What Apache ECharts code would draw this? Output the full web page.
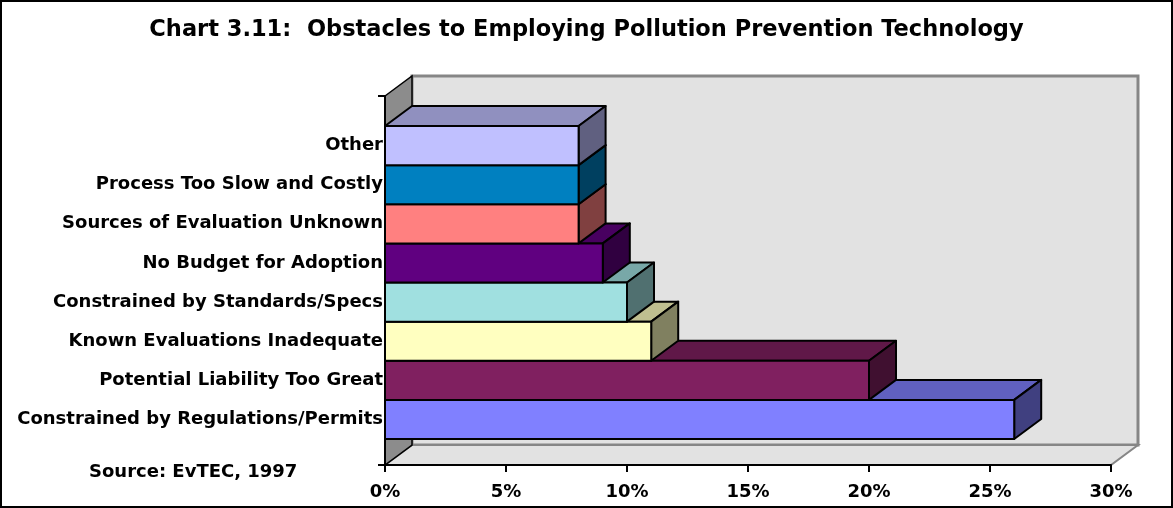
<!DOCTYPE html>
<html>
<head>
<meta charset="utf-8">
<script src="https://cdn.jsdelivr.net/npm/echarts@6/dist/echarts.min.js"></script>
<style>
  html, body { margin: 0; padding: 0; background: #fff; }
  #main { width: 1173px; height: 508px; }
</style>
</head>
<body>
<div id="main"></div>
<script>
// bottom to top, as on the chart
const categories = [
  'Constrained by Regulations/Permits',
  'Potential Liability Too Great',
  'Known Evaluations Inadequate',
  'Constrained by Standards/Specs',
  'No Budget for Adoption',
  'Sources of Evaluation Unknown',
  'Process Too Slow and Costly',
  'Other'
];
const values = [26, 20, 11, 10, 9, 8, 8, 8];
const barColors = ['#8080FF', '#802060', '#FFFFC0', '#A0E0E0', '#600080', '#FF8080', '#0080C0', '#C0C0FF'];
const xMin = 0, xMax = 30, xStep = 5;

const DEPTH = [27, -20];
const FONT = '"DejaVu Sans", Arial, sans-serif';

function shade(hex, k) {
  const n = parseInt(hex.slice(1), 16);
  const r = Math.round(((n >> 16) & 255) * k);
  const g = Math.round(((n >> 8) & 255) * k);
  const b = Math.round((n & 255) * k);
  return 'rgb(' + r + ',' + g + ',' + b + ')';
}

const chart = echarts.init(document.getElementById('main'));

const option = {
  animation: false,
  backgroundColor: '#fff',
  title: {
    text: 'Chart 3.11:  Obstacles to Employing Pollution Prevention Technology',
    left: 'center',
    top: 14,
    textStyle: { fontFamily: FONT, fontSize: 22.5, fontWeight: 'bold', color: '#000' }
  },
  graphic: [
    {
      type: 'rect', z: 100, silent: true,
      shape: { x: 1, y: 1, width: 1171, height: 506 },
      style: { fill: 'none', stroke: '#000', lineWidth: 2 }
    },
    {
      type: 'text', left: 89, top: 463, silent: true,
      style: { text: 'Source: EvTEC, 1997', font: 'bold 18px ' + FONT, fill: '#000' }
    }
  ],
  grid: [
    { left: 385, right: 62, top: 126, bottom: 69 },
    { left: 385, right: 62, top: 96, bottom: 43 }
  ],
  xAxis: [
    { gridIndex: 0, type: 'value', min: xMin, max: xMax, interval: xStep, show: false },
    {
      gridIndex: 1, type: 'value', min: xMin, max: xMax, interval: xStep, z: 10,
      axisLine: { show: true, lineStyle: { color: '#000', width: 2 } },
      axisTick: { show: true, length: 7, lineStyle: { color: '#000', width: 2 } },
      axisLabel: {
        formatter: '{value}%', margin: 18,
        fontFamily: FONT, fontSize: 18, fontWeight: 'bold', color: '#000'
      },
      splitLine: { show: false }
    }
  ],
  yAxis: [
    {
      gridIndex: 0, type: 'category', data: categories,
      axisLine: { show: false }, axisTick: { show: false },
      axisLabel: { margin: 2, fontFamily: FONT, fontSize: 18, fontWeight: 'bold', color: '#000' }
    },
    {
      gridIndex: 1, type: 'value', min: 0, max: 1, interval: 1, z: 10,
      axisLine: { show: true, lineStyle: { color: '#000', width: 2 } },
      axisTick: { show: true, length: 7, lineStyle: { color: '#000', width: 2 } },
      axisLabel: { show: false },
      splitLine: { show: false }
    }
  ],
  series: [
    {
      // walls and floor of the 3D box
      type: 'custom', xAxisIndex: 1, yAxisIndex: 1, z: 1, silent: true,
      data: [[xMin, 0]],
      renderItem: function (params, api) {
        const a = api.coord([xMin, 0]);
        const b = api.coord([xMax, 1]);
        const x0 = a[0], y0 = a[1], x1 = b[0], y1 = b[1];
        const dx = DEPTH[0], dy = DEPTH[1];
        return {
          type: 'group',
          children: [
            {
              type: 'rect',
              shape: { x: x0 + dx, y: y1 + dy, width: x1 - x0, height: y0 - y1 },
              style: { fill: '#e2e2e2', stroke: '#868686', lineWidth: 3 }
            },
            {
              type: 'polygon',
              shape: { points: [[x0, y0], [x0 + dx, y0 + dy], [x1 + dx, y0 + dy], [x1, y0]] },
              style: { fill: '#e2e2e2', stroke: '#868686', lineWidth: 2 }
            },
            {
              type: 'polygon',
              shape: { points: [[x0, y1], [x0 + dx, y1 + dy], [x0 + dx, y0 + dy], [x0, y0]] },
              style: { fill: '#8c8c8c', stroke: '#000', lineWidth: 1.5 }
            }
          ]
        };
      }
    },
    {
      type: 'custom', xAxisIndex: 0, yAxisIndex: 0, z: 2, silent: true,
      data: values.map(function (v, i) { return [v, i]; }),
      renderItem: function (params, api) {
        const i = api.value(1);
        const c0 = api.coord([xMin, i]);
        const c1 = api.coord([api.value(0), i]);
        const band = api.size([0, 1])[1];
        const yt = c0[1] - band / 2, yb = c0[1] + band / 2;
        const x0 = c0[0], x1 = c1[0];
        const dx = DEPTH[0], dy = DEPTH[1];
        const col = barColors[i];
        const line = { stroke: '#000', lineWidth: 2, lineJoin: 'round' };
        return {
          type: 'group',
          children: [
            {
              type: 'polygon',
              shape: { points: [[x0, yt], [x0 + dx, yt + dy], [x1 + dx, yt + dy], [x1, yt]] },
              style: Object.assign({ fill: shade(col, 0.75) }, line)
            },
            {
              type: 'polygon',
              shape: { points: [[x1, yt], [x1 + dx, yt + dy], [x1 + dx, yb + dy], [x1, yb]] },
              style: Object.assign({ fill: shade(col, 0.5) }, line)
            },
            {
              type: 'rect',
              shape: { x: x0, y: yt, width: x1 - x0, height: yb - yt },
              style: Object.assign({ fill: col }, line)
            }
          ]
        };
      }
    }
  ]
};

chart.setOption(option);
</script>
</body>
</html>
